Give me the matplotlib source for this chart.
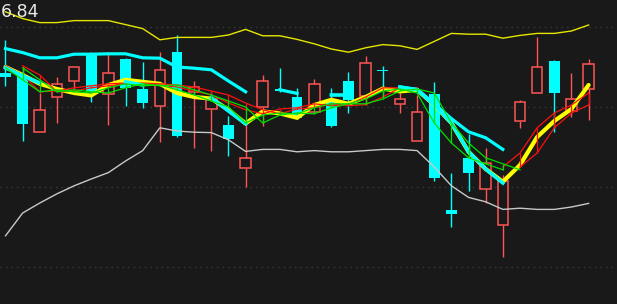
import numpy as np
import matplotlib
matplotlib.use('Agg')
import matplotlib.pyplot as plt

# candle data (price)
opens = [6.685, 6.680, 6.538, 6.625, 6.665, 6.735, 6.633, 6.720, 6.645, 6.603,
         6.738, 6.638, 6.595, 6.555, 6.448, 6.600, 6.645, 6.625, 6.588, 6.620,
         6.665, 6.628, 6.693, 6.608, 6.515, 6.633, 6.343, 6.473, 6.395, 6.305,
         6.565, 6.635, 6.715, 6.590, 6.645]
highs = [6.768, 6.695, 6.635, 6.675, 6.700, 6.738, 6.738, 6.723, 6.713, 6.738,
         6.780, 6.665, 6.638, 6.578, 6.560, 6.680, 6.698, 6.648, 6.670, 6.648,
         6.688, 6.728, 6.703, 6.635, 6.630, 6.663, 6.435, 6.533, 6.498, 6.430,
         6.618, 6.775, 6.718, 6.685, 6.720]
lows = [6.653, 6.515, 6.538, 6.560, 6.635, 6.613, 6.555, 6.603, 6.598, 6.513,
        6.525, 6.498, 6.490, 6.478, 6.400, 6.553, 6.638, 6.570, 6.588, 6.550,
        6.585, 6.605, 6.625, 6.585, 6.515, 6.415, 6.300, 6.390, 6.360, 6.225,
        6.548, 6.635, 6.538, 6.575, 6.568]
closes = [6.675, 6.558, 6.593, 6.658, 6.700, 6.638, 6.685, 6.648, 6.610, 6.693,
          6.528, 6.650, 6.620, 6.520, 6.473, 6.665, 6.640, 6.573, 6.658, 6.553,
          6.618, 6.710, 6.690, 6.620, 6.588, 6.423, 6.333, 6.435, 6.460, 6.415,
          6.613, 6.700, 6.635, 6.620, 6.708]

# bands
upper_band = [6.838, 6.821, 6.811, 6.811, 6.816, 6.816, 6.816, 6.806, 6.796, 6.768,
              6.774, 6.774, 6.774, 6.780, 6.794, 6.778, 6.778, 6.769, 6.758, 6.745,
              6.737, 6.748, 6.756, 6.753, 6.744, 6.764, 6.784, 6.782, 6.782, 6.772,
              6.779, 6.784, 6.784, 6.790, 6.805]
lower_band = [6.278, 6.335, 6.360, 6.383, 6.403, 6.420, 6.436, 6.465, 6.491, 6.548,
              6.540, 6.537, 6.536, 6.518, 6.489, 6.494, 6.494, 6.488, 6.491, 6.488,
              6.488, 6.491, 6.494, 6.494, 6.491, 6.450, 6.403, 6.374, 6.363, 6.344,
              6.347, 6.344, 6.344, 6.350, 6.359]

nan = np.nan
# moving averages
ma_cyan = [6.746, 6.736, 6.723, 6.723, 6.732, 6.732, 6.733, 6.733, 6.723, 6.722,
           6.700, 6.697, 6.693, 6.665, 6.638, nan, 6.643, 6.634, nan, nan,
           nan, nan, nan, 6.650, 6.644, 6.608, 6.571, 6.538, 6.523, 6.494,
           nan, nan, nan, nan, nan]
ma_yellow = [6.700, 6.680, 6.658, 6.645, 6.635, 6.629, 6.655, 6.668, 6.663, 6.658,
             6.635, 6.625, 6.621, 6.593, 6.559, 6.589, 6.584, 6.573, 6.605, 6.618,
             6.608, 6.625, 6.646, 6.639, 6.643, 6.605, 6.560, 6.488, 6.445, 6.413,
             6.455, 6.525, 6.565, 6.595, 6.655]
ma_yellow_down = [6.698, 6.678, 6.660, nan, nan, nan, nan, 6.663, 6.655, nan,
                  nan, nan, 6.623, 6.590, 6.558, nan, nan, nan, nan, 6.630,
                  6.630, nan, nan, 6.650, 6.643, 6.605, 6.560, 6.488, 6.445, 6.410,
                  nan, nan, nan, nan, nan]
ma_red = [6.703, 6.680, 6.638, 6.640, 6.648, 6.653, 6.658, 6.660, 6.658, 6.655,
          6.650, 6.640, 6.630, 6.610, 6.593, 6.583, 6.595, 6.598, 6.608, 6.603,
          6.606, 6.625, 6.648, 6.648, nan, nan, nan, nan, nan, 6.450,
          6.485, 6.548, 6.585, 6.605, 6.635]
ma_green = [6.698, 6.668, 6.638, 6.643, 6.638, 6.635, 6.648, 6.658, 6.653, 6.655,
            6.643, 6.630, 6.615, 6.600, 6.560, 6.580, 6.585, 6.583, 6.598, 6.608,
            6.608, 6.620, 6.640, 6.645, 6.635, 6.560, 6.510, 6.473, 6.458, 6.443,
            nan, nan, nan, nan, nan]

bg = '#191919'
up_color = '#ff5555'
down_color = '#00ffff'

x = np.arange(len(opens))
o = np.array(opens)
c = np.array(closes)
h = np.array(highs)
l = np.array(lows)
up = c >= o

fig = plt.figure(figsize=(6.17, 3.04), dpi=100)
fig.patch.set_facecolor(bg)
ax = fig.add_axes([0, 0, 1, 1])
ax.set_facecolor(bg)

# candles
w = 0.62
ax.bar(x[up], c[up] - o[up], bottom=o[up], width=w, facecolor=bg,
       edgecolor=up_color, linewidth=1.1, zorder=2)
ax.vlines(x[up], np.maximum(o, c)[up], h[up], color=up_color, lw=1, zorder=2)
ax.vlines(x[up], l[up], np.minimum(o, c)[up], color=up_color, lw=1, zorder=2)
ax.vlines(x[~up], l[~up], h[~up], color=down_color, lw=1, zorder=2)
body = np.maximum(o[~up] - c[~up], 0.003)
ax.bar(x[~up], body, bottom=c[~up], width=w, color=down_color,
       linewidth=0, zorder=2)


def double_line(vals, color, lw, z):
    # line drawn twice, one bar apart, joined by short verticals
    v = np.array(vals, dtype=float)
    prev = np.r_[np.nan, v[:-1]]
    ax.plot(x, v, color=color, lw=lw, zorder=z)
    ax.plot(x, prev, color=color, lw=lw, zorder=z)
    ax.vlines(x, prev, v, color=color, lw=lw, zorder=z)


# bands
ax.plot(x, upper_band, color='#e6e600', lw=1.0, zorder=3)
ax.plot(x, lower_band, color='#c8c8c8', lw=1.0, zorder=3)

# averages
ax.plot(x, ma_yellow, color='#ffff00', lw=3.0, zorder=4, solid_capstyle='round')
double_line(ma_red, '#ff1010', 0.9, 5)
ax.plot(x, ma_yellow_down, color='#00ffff', lw=2.6, zorder=6)
ax.plot(x, ma_cyan, color='#00ffff', lw=2.3, zorder=6)
double_line(ma_green, '#00e000', 0.9, 7)

# grid
ax.set_yticks([6.80, 6.60, 6.40, 6.20])
ax.grid(axis='y', color='#3c3c3c', linestyle=(0, (1, 3)), lw=1)
ax.set_axisbelow(True)
ax.set_xlim(-5.5 / 17.15, (617 - 5.5) / 17.15)
ax.set_ylim(6.1075, 6.8675)
ax.tick_params(left=False, bottom=False, labelleft=False, labelbottom=False)
for s in ax.spines.values():
    s.set_visible(False)

ax.text(1 / 617, 1 - 12 / 304, '6.84', transform=ax.transAxes, ha='left',
        va='center', color='#e8e8e8', fontsize=12.5)

fig.savefig('out.png', dpi=100, facecolor=bg)
